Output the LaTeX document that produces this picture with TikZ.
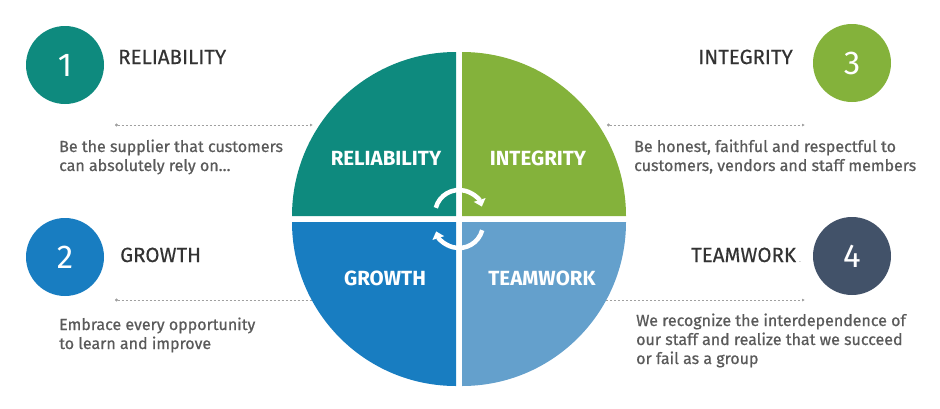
\documentclass[tikz,border=0pt]{standalone}
\usepackage{fontspec}
\setmainfont{Fira Sans}
\newfontfamily\descfont{Fira Sans}[FakeBold=0.7]
\newfontfamily\headfont{Fira Sans}[FakeBold=0.4]
\usepackage{tikz}
\usetikzlibrary{arrows.meta}

\definecolor{relteal}{HTML}{0E8A7E}
\definecolor{intgreen}{HTML}{84B23B}
\definecolor{growblue}{HTML}{187DC1}
\definecolor{teamblue}{HTML}{64A0CC}
\definecolor{teamnavy}{HTML}{425269}
\definecolor{headgray}{HTML}{333333}
\definecolor{descgray}{HTML}{5A5A5A}
\definecolor{dotgray}{HTML}{A0A0A0}

\tikzset{
  numcirc/.style={circle, minimum size=78pt, inner sep=0pt, text=white,
    font=\fontsize{33}{33}\selectfont},
  head/.style={anchor=base west, inner sep=0pt, text=headgray,
    font=\headfont\fontsize{20.5}{21}\selectfont},
  desc/.style={anchor=base west, inner sep=0pt, text=descgray, align=left,
    font=\descfont\fontsize{16}{19}\selectfont},
  quadlabel/.style={text=white, font=\bfseries\fontsize{20.5}{21}\selectfont},
  dotline/.style={dotgray, line width=0.8pt, dash pattern=on 2pt off 2pt},
  cyc/.style={white, line width=4.5pt, -{Triangle[width=12pt,length=7pt]}}
}

\begin{document}
\begin{tikzpicture}[x=1pt, y=-1pt]
\useasboundingbox (0,0) rectangle (940,408);

% dotted pointers (drawn first, the wheel covers their inner ends)
\coordinate (p1s) at (115,125);
\coordinate (p1e) at (313,125);
\coordinate (p2s) at (115,300);
\coordinate (p2e) at (330,300);
\coordinate (p3s) at (607,125);
\coordinate (p3e) at (805,125);
\coordinate (p4s) at (590,300);
\coordinate (p4e) at (805,300);
\draw[dotline, {Circle[length=3pt]}-{Latex[length=3pt,width=3pt]}] (p1s) -- (p1e);
\draw[dotline, {Circle[length=3pt]}-] (p2s) -- (p2e);
\draw[dotline, {Circle[length=3pt]}-{Latex[length=3pt,width=3pt]}] (p3s) -- (p3e);
\draw[dotline, -{Latex[length=3pt,width=3pt]}] (p4s) -- (p4e);

% the wheel
\fill[relteal] (456,216) -- ++(-164pt,0pt) arc[start angle=180, end angle=90, radius=164pt] -- cycle;
\fill[intgreen] (462,216) -- ++(0pt,164pt) arc[start angle=90, end angle=0, radius=164pt] -- cycle;
\fill[growblue] (456,222) -- ++(0pt,-164pt) arc[start angle=270, end angle=180, radius=164pt] -- cycle;
\fill[teamblue] (462,222) -- ++(164pt,0pt) arc[start angle=0, end angle=-90, radius=164pt] -- cycle;

\node[quadlabel] (qrel) at (386,158) {RELIABILITY};
\node[quadlabel] (qint) at (538,158) {INTEGRITY};
\node[quadlabel] (qgro) at (385,278) {GROWTH};
\node[quadlabel] (qtea) at (542,278) {TEAMWORK};

% cycle arrows in the middle
\coordinate (ctop) at (459,214);
\coordinate (cbot) at (459,224);
\draw[cyc] ([shift={(165:24pt)}]ctop) arc[start angle=165, end angle=18, radius=24pt];
\draw[cyc] ([shift={(-15:24pt)}]cbot) arc[start angle=-15, end angle=-162, radius=24pt];

% numbered circles
\node[numcirc, fill=relteal] (n1) at (65,65) {1};
\node[numcirc, fill=growblue] (n2) at (65,257) {2};
\node[numcirc, fill=intgreen] (n3) at (852,63) {3};
\node[numcirc, fill=teamnavy] (n4) at (852,256) {4};

% headings
\node[head] (h1) at (118,64) {RELIABILITY};
\node[head] (h2) at (120,262) {GROWTH};
\node[head] (h3) at (698,64) {INTEGRITY};
\node[head] (h4) at (691,262) {TEAMWORK};
\node[anchor=base west, inner sep=0pt, text=dotgray, font=\fontsize{8}{8}\selectfont] (h4dot) at (799,262) {.};

% descriptions (anchored on the baseline of their last line)
\node[desc] (d1) at (59,171) {Be the supplier that customers\\can absolutely rely on\dots};
\node[desc] (d2) at (59,349) {Embrace every opportunity\\to learn and improve};
\node[desc] (d3) at (634,171) {Be honest, faithful and respectful to\\customers, vendors and staff members};
\node[desc] (d4) at (636,364) {We recognize the interdependence of\\our staff and realize that we succeed\\or fail as a group};
\end{tikzpicture}
\end{document}
